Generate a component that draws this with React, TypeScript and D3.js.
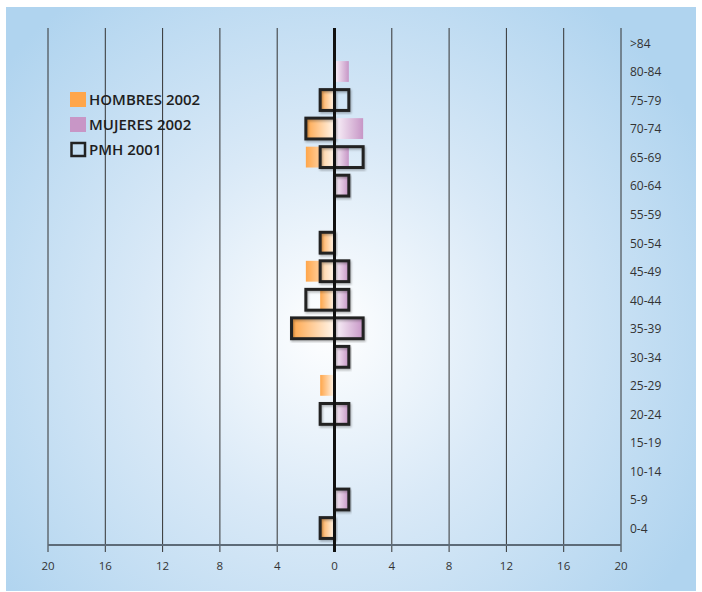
import React from "react";
import * as d3 from "d3";

const categories = ["0-4","5-9","10-14","15-19","20-24","25-29","30-34","35-39","40-44","45-49","50-54","55-59","60-64","65-69","70-74","75-79","80-84",">84"];
const hombres2002 = [1,0,0,0,0,1,0,3,1,2,1,0,0,2,2,1,0,0];
const mujeres2002 = [0,1,0,0,1,0,1,2,1,1,0,0,1,1,2,0,1,0];
const pmhHombres2001 = [1,0,0,0,1,0,0,3,2,1,1,0,0,1,2,1,0,0];
const pmhMujeres2001 = [0,1,0,0,1,0,1,2,1,1,0,0,1,2,0,1,0,0];
const xTicks = [-20,-16,-12,-8,-4,0,4,8,12,16,20];
const legendItems = ["HOMBRES 2002","MUJERES 2002","PMH 2001"];

const W = 702, H = 592;

export default function App() {
  const x = d3.scaleLinear().domain([-20, 20]).range([48, 621]);
  const y = d3.scaleBand<string>().domain([...categories].reverse()).range([28.7, 542.3]).padding(0);
  const bh = y.bandwidth() * 0.73;
  const yc = (c: string) => (y(c) as number) + y.bandwidth() / 2;
  const top = 28, axisY = 545, tickEnd = 552;
  const font = "'Open Sans', 'DejaVu Sans', sans-serif";

  return (
    <svg width={W} height={H} style={{ position: "absolute", left: 0, top: 0 }} fontFamily={font}>
      <defs>
        <radialGradient id="bg" cx="330" cy="330" r="420" gradientUnits="userSpaceOnUse">
          <stop offset="0" stopColor="#ffffff" />
          <stop offset="0.45" stopColor="#d9e9f7" />
          <stop offset="1" stopColor="#b0d4ef" />
        </radialGradient>
        <linearGradient id="gOr" x1="0" x2="1" y1="0" y2="0">
          <stop offset="0" stopColor="#ffa64a" />
          <stop offset="1" stopColor="#fff6ec" />
        </linearGradient>
        <linearGradient id="gPu" x1="0" x2="1" y1="0" y2="0">
          <stop offset="0" stopColor="#fbf5fb" />
          <stop offset="1" stopColor="#c796c6" />
        </linearGradient>
        <filter id="sh" x="-20%" y="-20%" width="140%" height="140%">
          <feDropShadow dx="1" dy="1.5" stdDeviation="0.8" floodColor="#000" floodOpacity="0.3" />
        </filter>
      </defs>
      <rect x={6} y={7} width={690} height={584} fill="url(#bg)" />

      {xTicks.filter(t => t !== 0).map(t => (
        <line key={t} x1={x(t)} x2={x(t)} y1={top} y2={tickEnd} stroke="#333" strokeWidth={1} />
      ))}
      <line x1={x(-20)} x2={x(20)} y1={axisY} y2={axisY} stroke="#5d6b78" strokeWidth={2} />
      {xTicks.map(t => (
        <text key={"l" + t} x={x(t)} y={570} textAnchor="middle" fontSize={11.5} fill="#333">{Math.abs(t)}</text>
      ))}

      {categories.map((c, i) => (
        <g key={c}>
          {hombres2002[i] > 0 && (
            <rect x={x(-hombres2002[i])} y={yc(c) - bh / 2} width={x(0) - x(-hombres2002[i])} height={bh} fill="url(#gOr)" />
          )}
          {mujeres2002[i] > 0 && (
            <rect x={x(0)} y={yc(c) - bh / 2} width={x(mujeres2002[i]) - x(0)} height={bh} fill="url(#gPu)" />
          )}
        </g>
      ))}
      {categories.map((c, i) => (
        <g key={"b" + c} filter="url(#sh)">
          {pmhHombres2001[i] > 0 && (
            <rect x={x(-pmhHombres2001[i])} y={yc(c) - bh / 2} width={x(0) - x(-pmhHombres2001[i])} height={bh} fill="none" stroke="#222" strokeWidth={3} />
          )}
          {pmhMujeres2001[i] > 0 && (
            <rect x={x(0)} y={yc(c) - bh / 2} width={x(pmhMujeres2001[i]) - x(0)} height={bh} fill="none" stroke="#222" strokeWidth={3} />
          )}
        </g>
      ))}
      <line x1={x(0)} x2={x(0)} y1={top} y2={tickEnd} stroke="#111" strokeWidth={3} />

      {categories.map(c => (
        <text key={"c" + c} x={630} y={yc(c)} dy="0.4em" fontSize={12} fill="#333">{c}</text>
      ))}

      <g>
        <rect x={70} y={92} width={16} height={15} fill="#ffa64a" />
        <rect x={70} y={117} width={16} height={15} fill="#c896c6" />
        <rect x={71.5} y={143} width={13.5} height={13} fill="none" stroke="#222" strokeWidth={2.5} />
        {legendItems.map((t, i) => (
          <text key={t} x={89} y={100 + i * 25} dy="0.36em" fontSize={15} fontWeight={600} fill="#1e1e1e">{t}</text>
        ))}
      </g>
    </svg>
  );
}
